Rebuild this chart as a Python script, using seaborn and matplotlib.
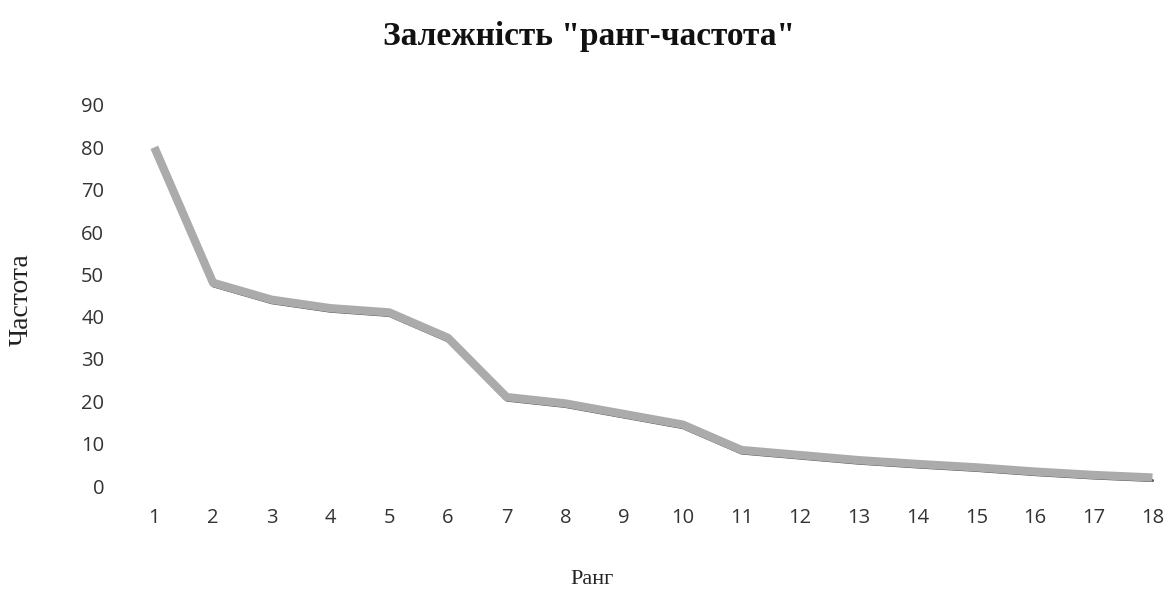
import matplotlib
matplotlib.use("Agg")
import matplotlib.pyplot as plt
import matplotlib.transforms as mtransforms
import seaborn as sns
import pandas as pd

ranks = list(range(1, 19))
freqs = [80, 48, 44, 42, 41, 35, 21, 19.5, 17, 14.5, 8.5, 7.3, 6.1, 5.2, 4.4, 3.4, 2.6, 2]
yticks = [0, 10, 20, 30, 40, 50, 60, 70, 80, 90]
title = 'Залежність "ранг-частота"'
xlabel = "Ранг"
ylabel = "Частота"

sns.set_theme(style="white")
plt.rcParams["font.family"] = ["Open Sans", "DejaVu Sans"]

df = pd.DataFrame({"rank": ranks, "freq": freqs})

fig = plt.figure(figsize=(11.73, 5.95), dpi=100)
W, H = 1173, 595
ax = fig.add_axes([125 / W, (H - 486) / H, (1173 - 125) / W, (486 - 105) / H])

# darker lower edge of the printed line
shadow = mtransforms.offset_copy(ax.transData, fig=fig, x=0, y=-3, units="dots")
sns.lineplot(data=df, x="rank", y="freq", ax=ax, color="#4a4a4a", linewidth=2.2,
             transform=shadow, solid_joinstyle="round")
sns.lineplot(data=df, x="rank", y="freq", ax=ax, color="#ababab", linewidth=6,
             solid_joinstyle="round", solid_capstyle="butt")

ax.set_xlim(0.5, 18.35)
ax.set_ylim(0, 90)
ax.set_xticks(ranks)
ax.set_xticklabels([str(r) for r in ranks])
ax.set_yticks(yticks)
ax.set_yticklabels([str(v) for v in yticks])
ax.tick_params(axis="both", length=0, labelsize=14.5, labelcolor="#333333")
ax.tick_params(axis="x", pad=16)
ax.tick_params(axis="y", pad=15)
for s in ax.spines.values():
    s.set_visible(False)
ax.grid(False)
ax.set_xlabel("")
ax.set_ylabel("")

serif = ["Liberation Serif", "DejaVu Serif"]
fig.text(589 / W, 1 - 36 / H, title, ha="center", va="center", fontsize=24,
         fontweight="bold", family=serif, color="#111111")
fig.text(592 / W, 1 - 580 / H, xlabel, ha="center", va="center", fontsize=16,
         family=serif, color="#222222")
fig.text(21 / W, 1 - 300 / H, ylabel, ha="center", va="center", fontsize=20,
         family=serif, color="#222222", rotation=90)

fig.savefig("out.png", dpi=100)
